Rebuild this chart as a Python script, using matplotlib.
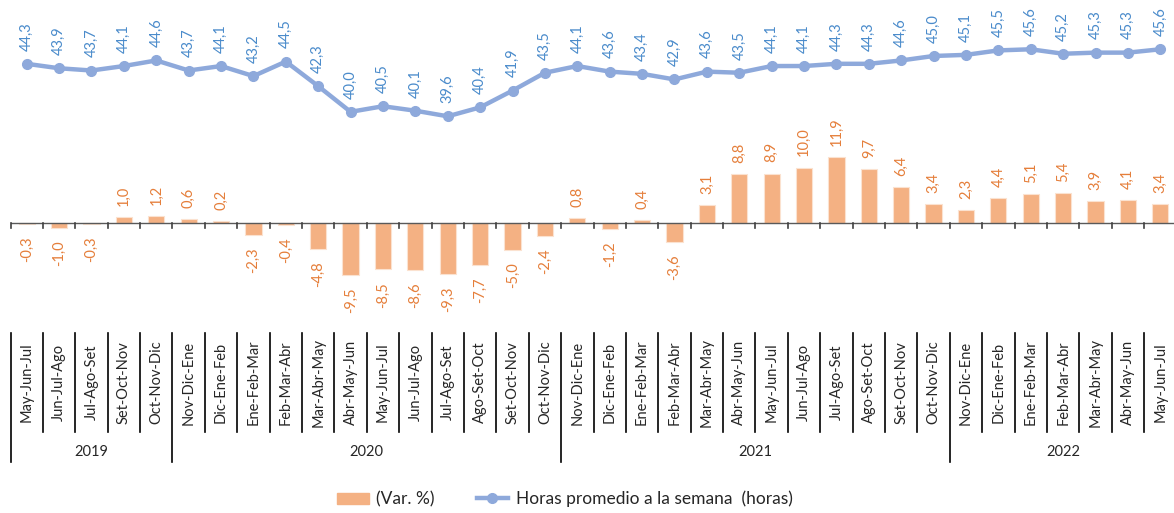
import matplotlib
matplotlib.use("Agg")
import matplotlib.pyplot as plt
from matplotlib.lines import Line2D
from matplotlib.patches import Patch
import matplotlib.transforms as mtransforms

plt.rcParams['font.family'] = ['Lato', 'DejaVu Sans']

periods = ["May-Jun-Jul", "Jun-Jul-Ago", "Jul-Ago-Set", "Set-Oct-Nov", "Oct-Nov-Dic",
           "Nov-Dic-Ene", "Dic-Ene-Feb", "Ene-Feb-Mar", "Feb-Mar-Abr", "Mar-Abr-May",
           "Abr-May-Jun", "May-Jun-Jul", "Jun-Jul-Ago", "Jul-Ago-Set", "Ago-Set-Oct",
           "Set-Oct-Nov", "Oct-Nov-Dic",
           "Nov-Dic-Ene", "Dic-Ene-Feb", "Ene-Feb-Mar", "Feb-Mar-Abr", "Mar-Abr-May",
           "Abr-May-Jun", "May-Jun-Jul", "Jun-Jul-Ago", "Jul-Ago-Set", "Ago-Set-Oct",
           "Set-Oct-Nov", "Oct-Nov-Dic",
           "Nov-Dic-Ene", "Dic-Ene-Feb", "Ene-Feb-Mar", "Feb-Mar-Abr", "Mar-Abr-May",
           "Abr-May-Jun", "May-Jun-Jul"]
years = ["2019", "2020", "2021", "2022"]
year_counts = [5, 12, 12, 7]

horas = [44.3, 43.9, 43.7, 44.1, 44.6, 43.7, 44.1, 43.2, 44.5, 42.3, 40.0, 40.5,
         40.1, 39.6, 40.4, 41.9, 43.5, 44.1, 43.6, 43.4, 42.9, 43.6, 43.5, 44.1,
         44.1, 44.3, 44.3, 44.6, 45.0, 45.1, 45.5, 45.6, 45.2, 45.3, 45.3, 45.6]
var_pct = [-0.3, -1.0, -0.3, 1.0, 1.2, 0.6, 0.2, -2.3, -0.4, -4.8, -9.5, -8.5,
           -8.6, -9.3, -7.7, -5.0, -2.4, 0.8, -1.2, 0.4, -3.6, 3.1, 8.8, 8.9,
           10.0, 11.9, 9.7, 6.4, 3.4, 2.3, 4.4, 5.1, 5.4, 3.9, 4.1, 3.4]

W, H = 1174, 513
fig = plt.figure(figsize=(W / 100, H / 100), dpi=100)

left_px, right_px = 10.5, 1176.5
top_px, bot_px = 5, 320
ax = fig.add_axes([left_px / W, 1 - bot_px / H, (right_px - left_px) / W, (bot_px - top_px) / H])
ax2 = ax.twinx()

n = len(periods)
x = list(range(n))
ax.set_xlim(-0.5, n - 0.5)

bar_scale = 5.5
zero_px = 222.5
ax.set_ylim(-(bot_px - zero_px) / bar_scale, (zero_px - top_px) / bar_scale)
line_scale = 11.17
ref_px = 63.8
ax2.set_ylim(44.3 - (bot_px - ref_px) / line_scale, 44.3 + (ref_px - top_px) / line_scale)

bar_color = "#F4B183"
bar_lab = "#E57E3A"
line_color = "#8EA9DB"
line_lab = "#4A8BCB"

ax.bar(x, var_pct, width=0.5, color=bar_color, edgecolor="#FBE2D0", linewidth=0.8, zorder=2)
ax2.plot(x, horas, color=line_color, linewidth=3.2, marker='o', markersize=7, zorder=3)

for xi, v in zip(x, var_pct):
    lab = f"{v:.1f}".replace('.', ',')
    if v >= 0:
        ax.annotate(lab, (xi, v), xytext=(0, 8), textcoords='offset points', rotation=90,
                    ha='center', va='bottom', color=bar_lab, fontsize=10.5)
    else:
        ax.annotate(lab, (xi, v), xytext=(0, -9), textcoords='offset points', rotation=90,
                    ha='center', va='top', color=bar_lab, fontsize=10.5)

for xi, v in zip(x, horas):
    lab = f"{v:.1f}".replace('.', ',')
    ax2.annotate(lab, (xi, v), xytext=(0, 9.5), textcoords='offset points', rotation=90,
                 ha='center', va='bottom', color=line_lab, fontsize=10.5)

for a in (ax, ax2):
    for s in a.spines.values():
        s.set_visible(False)
    a.set_yticks([])
ax.set_xticks([])

ax.axhline(0, color="#595959", linewidth=1.0, zorder=4)
tick_len = 5 / bar_scale
for b in range(n + 1):
    bx = b - 0.5
    ax.plot([bx, bx], [0, -tick_len], color="#404040", linewidth=1.2, zorder=4, clip_on=False)

trans = mtransforms.blended_transform_factory(ax.transData, fig.transFigure)
def fy(px):
    return 1 - px / H

sep_top, sep_bot, year_bot = 333, 432, 462
for i, p in enumerate(periods):
    ax.text(i, fy(382.5), p, rotation=90, ha='center', va='center', transform=trans,
            fontsize=10.5, color="#262626", clip_on=False)

year_bounds = [0]
for c in year_counts:
    year_bounds.append(year_bounds[-1] + c)
for b in range(n + 1):
    bx = b - 0.5
    yb = year_bot if b in year_bounds else sep_bot
    ln = Line2D([bx, bx], [fy(sep_top), fy(yb)], transform=trans, color="black", linewidth=1.2,
                clip_on=False)
    fig.add_artist(ln)

for yname, s, e in zip(years, year_bounds[:-1], year_bounds[1:]):
    ax.text((s + e - 1) / 2, fy(452), yname, ha='center', va='center', transform=trans,
            fontsize=10.5, color="#262626", clip_on=False)

handles = [Patch(facecolor=bar_color, edgecolor=bar_color),
           Line2D([0], [0], color=line_color, linewidth=3.2, marker='o', markersize=7)]
labels = ["(Var. %)", "Horas promedio a la semana  (horas)"]
fig.legend(handles, labels, loc='center', bbox_to_anchor=(565 / W, 1 - 499 / H), ncol=2,
           frameon=False, fontsize=12.5, handlelength=1.8, handleheight=0.6, columnspacing=2.4,
           handletextpad=0.45, labelcolor="#262626")

fig.savefig("out.png", dpi=100)
